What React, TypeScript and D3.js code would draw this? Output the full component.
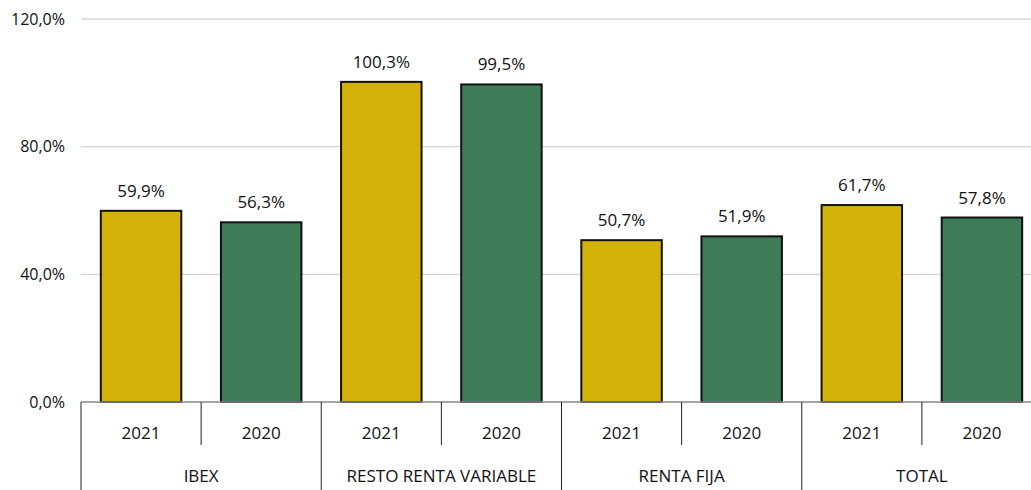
import React from "react";
import * as d3 from "d3";

const categories = ["IBEX", "RESTO RENTA VARIABLE", "RENTA FIJA", "TOTAL"];
const years = ["2021", "2020"];
const values2021 = [59.9, 100.3, 50.7, 61.7];
const values2020 = [56.3, 99.5, 51.9, 57.8];
const yTicks = [0, 40, 80, 120];

const W = 1031;
const H = 490;
const left = 81;
const right = 1042;
const top = 19;
const bottom = 402;
const FONT = "'Open Sans', sans-serif";
const colors: Record<string, string> = { "2021": "#D4B106", "2020": "#3E7D58" };

const fmt = (v: number) => v.toFixed(1).replace(".", ",") + "%";

export default function App() {
  const items = categories.flatMap((c, i) => [
    { key: c + "-2021", cat: c, year: years[0], value: values2021[i] },
    { key: c + "-2020", cat: c, year: years[1], value: values2020[i] },
  ]);
  const x = d3
    .scaleBand<string>()
    .domain(items.map((d) => d.key))
    .range([left, right])
    .paddingInner(0.33)
    .paddingOuter(0.165);
  const y = d3.scaleLinear().domain([0, 120]).range([bottom, top]);
  const step = x.step();
  const slotStart = (k: string) => (x(k) as number) - (step * x.paddingInner()) / 2;

  return (
    <div style={{ position: "absolute", left: 0, top: 0 }}>
      <svg width={W} height={H} style={{ display: "block", fontFamily: FONT }}>
        <rect width={W} height={H} fill="#fff" />
        {yTicks.filter((t) => t > 0).map((t) => (
          <line key={t} x1={left} x2={W} y1={y(t)} y2={y(t)} stroke="#d4d4d4" strokeWidth={1.3} />
        ))}
        {yTicks.map((t) => (
          <text key={"l" + t} x={65} y={y(t)} dy="0.35em" textAnchor="end" fontSize={16} fill="#111">
            {fmt(t)}
          </text>
        ))}
        {items.map((d) => (
          <g key={d.key}>
            <rect
              x={x(d.key)}
              y={y(d.value)}
              width={x.bandwidth()}
              height={y(0) - y(d.value)}
              fill={colors[d.year]}
              stroke="#111"
              strokeWidth={2}
            />
            <text
              x={(x(d.key) as number) + x.bandwidth() / 2}
              y={y(d.value) - 14}
              textAnchor="middle"
              fontSize={17}
              fill="#111"
            >
              {fmt(d.value)}
            </text>
            <text
              x={(x(d.key) as number) + x.bandwidth() / 2}
              y={439}
              textAnchor="middle"
              fontSize={17}
              fill="#111"
            >
              {d.year}
            </text>
          </g>
        ))}
        <line x1={left} x2={W} y1={y(0)} y2={y(0)} stroke="#888" strokeWidth={1.3} />
        {items.map((d, i) =>
          i % 2 === 1 ? (
            <line key={"s" + d.key} x1={slotStart(d.key)} x2={slotStart(d.key)} y1={y(0)} y2={445} stroke="#222" strokeWidth={1} />
          ) : (
            <line key={"g" + d.key} x1={slotStart(d.key)} x2={slotStart(d.key)} y1={y(0)} y2={H} stroke="#222" strokeWidth={1} />
          )
        )}
        {categories.map((c) => {
          const a = slotStart(c + "-2021");
          return (
            <text key={"c" + c} x={a + step} y={482} textAnchor="middle" fontSize={17} fill="#111">
              {c}
            </text>
          );
        })}
      </svg>
    </div>
  );
}
